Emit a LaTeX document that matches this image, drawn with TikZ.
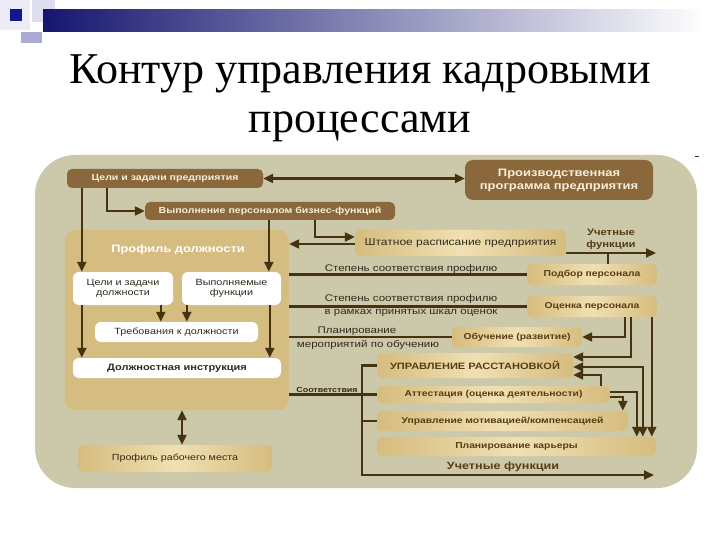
\documentclass[tikz,border=0pt]{standalone}
\usepackage{fontspec}
\setmainfont{Liberation Serif}
\newfontfamily\ssf[FakeStretch=1.2]{Liberation Sans}
\usetikzlibrary{arrows.meta}

\definecolor{bgc}{RGB}{204,201,170}
\definecolor{brn}{RGB}{139,104,60}
\definecolor{pnl}{RGB}{213,188,128}
\definecolor{tanD}{RGB}{214,188,126}
\definecolor{tanL}{RGB}{240,224,178}
\definecolor{lnc}{RGB}{70,52,16}
\definecolor{txd}{RGB}{88,60,20}
\definecolor{txl}{RGB}{50,42,28}
\definecolor{navy}{RGB}{22,22,112}
\definecolor{cream}{RGB}{247,238,218}
\definecolor{sqA}{RGB}{236,236,246}
\definecolor{sqB}{RGB}{222,222,240}
\definecolor{sqC}{RGB}{20,20,150}
\definecolor{sqD}{RGB}{170,170,212}

\begin{document}
\begin{tikzpicture}[x=1pt,y=-1pt,
  brownbox/.style={fill=brn, rounded corners=5pt, text=cream, font=\ssf\bfseries\fontsize{8.8}{10.5}\selectfont, inner sep=0pt, align=center},
  tanbox/.style={left color=tanD, right color=tanD, middle color=tanL, rounded corners=5pt, inner sep=0pt, text=txd, font=\ssf\bfseries\fontsize{8.6}{10}\selectfont, align=center},
  whitebox/.style={fill=white, rounded corners=6pt, inner sep=0pt, text=txl, font=\ssf\fontsize{9}{10.5}\selectfont, align=center},
  lbl/.style={text=txl, font=\ssf\fontsize{9.6}{13.5}\selectfont, inner sep=0pt, align=center},
  conn/.style={draw=lnc, line width=2.2pt},
  arr/.style={-{Triangle[length=10pt,width=9pt]}},
  biarr/.style={{Triangle[length=10pt,width=9pt]}-{Triangle[length=10pt,width=9pt]}},
]
\useasboundingbox (0,0) rectangle (720,540);
\fill[white] (0,0) rectangle (720,540);

% top decoration
\fill[sqA] (0,0) rectangle (30,30);
\fill[sqB] (32,0) rectangle (55,22);
\shade[left color=navy, right color=white] (43,10) rectangle (705,32);
\fill[sqC] (10,9) rectangle (22,21);
\fill[sqD] (21,32) rectangle (42,43);

% title
\node[anchor=base, font=\fontsize{44}{50}\selectfont] (t1) at (360,84) {Контур управления кадровыми};
\node[anchor=base, font=\fontsize{44}{50}\selectfont] (t2) at (360,133) {процессами};

% background
\fill[bgc, rounded corners=40pt] (35,155) rectangle (697,488);
\draw[lnc, line width=0.8pt] (695,156) -- (699,156);

% left panel
\node[fill=pnl, rounded corners=10pt, minimum width=224pt, minimum height=180pt, inner sep=0pt] (panel) at (177,320) {};
\node[text=white, font=\ssf\bfseries\fontsize{10.7}{12}\selectfont, inner sep=0pt] (ptitle) at (178,250) {Профиль должности};

% brown boxes
\node[brownbox, minimum width=196pt, minimum height=19pt] (cel) at (165,178.5) {Цели и задачи предприятия};
\node[brownbox, minimum width=188pt, minimum height=40pt, rounded corners=8pt, font=\ssf\bfseries\fontsize{10.8}{13}\selectfont] (prog) at (559,180) {Производственная\\программа предприятия};
\node[brownbox, minimum width=250pt, minimum height=18pt] (vyp) at (270,211) {Выполнение персоналом бизнес-функций};

% white boxes
\node[whitebox, minimum width=100pt, minimum height=33pt] (celD) at (123,288.5) {Цели и задачи\\должности};
\node[whitebox, minimum width=99pt, minimum height=33pt] (vypF) at (231.5,288.5) {Выполняемые\\функции};
\node[whitebox, minimum width=163pt, minimum height=20pt] (treb) at (176.5,332) {Требования к должности};
\node[whitebox, minimum width=208pt, minimum height=20pt, font=\ssf\bfseries\fontsize{9.2}{10}\selectfont] (dolzh) at (177,368) {Должностная инструкция};

% tan boxes
\node[tanbox, minimum width=194pt, minimum height=27pt, font=\ssf\fontsize{8.9}{10}\selectfont, text=txl] (prm) at (175,458.5) {Профиль рабочего места};
\node[tanbox, minimum width=211pt, minimum height=26pt, font=\ssf\fontsize{10}{11}\selectfont, text=txl] (shtat) at (460.5,243) {Штатное расписание предприятия};
\node[text=txd, font=\ssf\bfseries\fontsize{9.4}{12}\selectfont, align=center, inner sep=0pt] (uf1) at (611,239) {Учетные\\функции};
\node[tanbox, minimum width=130pt, minimum height=21pt] (podbor) at (592,274.5) {Подбор персонала};
\node[tanbox, minimum width=130pt, minimum height=21pt] (ocenka) at (592,306.5) {Оценка персонала};
\node[tanbox, minimum width=130pt, minimum height=20pt] (obuch) at (517,337) {Обучение (развитие)};
\node[tanbox, minimum width=196pt, minimum height=25pt, font=\ssf\bfseries\fontsize{9.2}{11}\selectfont] (upr) at (475,365.5) {УПРАВЛЕНИЕ РАССТАНОВКОЙ};
\node[tanbox, minimum width=233pt, minimum height=17pt] (att) at (493.5,394.5) {Аттестация (оценка деятельности)};
\node[tanbox, minimum width=251pt, minimum height=20pt] (motiv) at (502.5,421) {Управление мотивацией/компенсацией};
\node[tanbox, minimum width=279pt, minimum height=19pt] (kar) at (516.5,446.5) {Планирование карьеры};
\node[text=txd, font=\ssf\bfseries\fontsize{10.5}{12}\selectfont, inner sep=0pt] (uf2) at (503,466.5) {Учетные функции};

% labels
\node[lbl] (l1) at (411,269.5) {Степень соответствия профилю};
\node[lbl] (l2) at (411,305.5) {Степень соответствия профилю\\в рамках принятых шкал оценок};
\node[lbl] (l3a) at (357,331.5) {Планирование};
\node[lbl] (l3b) at (368,344.5) {мероприятий по обучению};
\node[lbl, font=\ssf\bfseries\fontsize{7.4}{9}\selectfont] (l4) at (327,389.5) {Соответствия};

% connectors (top)
\draw[conn,biarr] (cel.east) -- (cel.east -| prog.west);
\draw[conn,arr] ([xshift=15pt]cel.south west) -- ([xshift=15pt]cel.south west |- celD.north);
\draw[conn,arr] ([xshift=40pt]cel.south west) |- (vyp.west);
\draw[conn,arr] ([xshift=124pt]vyp.south west) -- ([xshift=124pt]vyp.south west |- vypF.north);
\draw[conn,arr] ([xshift=170pt]vyp.south west) |- ([yshift=6pt]shtat.west);
\draw[conn,arr] ([yshift=-1pt]shtat.west) -- ([yshift=-1pt]shtat.west -| panel.east);

% inside panel
\draw[conn,arr] ([xshift=9pt]celD.south west) -- ([xshift=9pt]celD.south west |- dolzh.north);
\draw[conn,arr] ([xshift=88pt]celD.south west) -- ([xshift=88pt]celD.south west |- treb.north);
\draw[conn,arr] ([xshift=5pt]vypF.south west) -- ([xshift=5pt]vypF.south west |- treb.north);
\draw[conn,arr] ([xshift=88pt]vypF.south west) -- ([xshift=88pt]vypF.south west |- dolzh.north);
\draw[conn,biarr] ([xshift=5pt]panel.south) -- ([xshift=5pt]panel.south |- prm.north);

% accounting arrow (top right)
\coordinate (uf1end) at (656,253);
\draw[conn,arr] ([yshift=-10pt]shtat.east) -- (uf1end);
\draw[conn] ([xshift=81pt]podbor.north west) -- ([xshift=81pt]podbor.north west |- uf1end);

% label lines
\draw[conn] (panel.east |- podbor.west) -- (podbor.west);
\draw[conn] (panel.east |- ocenka.west) -- (ocenka.west);
\draw[conn] (panel.east |- obuch.west) -- (obuch.west);
\draw[conn] (panel.east |- att.west) -- (att.west);

% right-hand links
\draw[conn,arr] ([xshift=98pt]ocenka.south west) |- (obuch.east);
\draw[conn,arr] ([xshift=104pt]ocenka.south west) |- ([yshift=8.5pt]upr.east);
\draw[conn,arr] ([xshift=125pt]ocenka.south west) -- ([xshift=125pt]ocenka.south west |- kar.north);
\draw[conn,biarr] ([yshift=-1.5pt]upr.east) -| ([xshift=266pt]kar.north west);
\draw[conn,arr] ([xshift=224pt]att.north west) |- ([yshift=-9.5pt]upr.east);
\draw[conn,arr] ([yshift=2.5pt]att.east) -| ([xshift=260pt]kar.north west);
\draw[conn,arr] ([yshift=-2.5pt]att.east) -| ([xshift=246pt]motiv.north west);

% left bus
\coordinate (busend) at (654,475);
\draw[conn,arr] (upr.west) -- ++(-15,0) |- (busend);
\draw[conn] (motiv.west) -- ++(-15,0);
\end{tikzpicture}
\end{document}
